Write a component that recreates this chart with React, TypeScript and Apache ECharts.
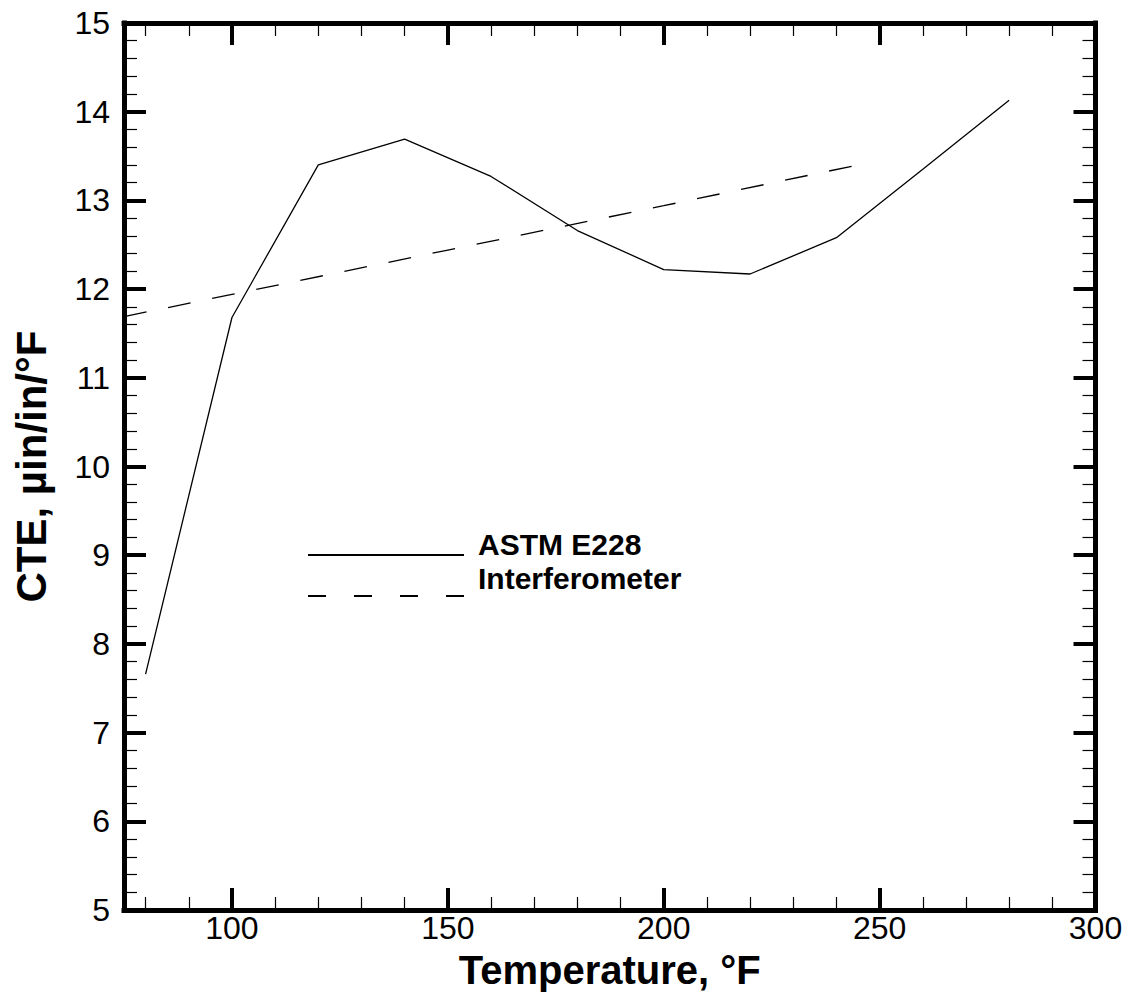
import React, { useEffect, useRef } from "react";
import * as echarts from "echarts";

const astmTemps = [80, 100, 120, 140, 160, 180, 200, 220, 240, 260, 280];
const astmCte = [7.66, 11.68, 13.4, 13.69, 13.27, 12.66, 12.22, 12.17, 12.58, 13.35, 14.13];
const interfTemps = [75, 100, 150, 200, 245];
const interfCte = [11.69, 11.94, 12.44, 12.94, 13.4];

const xMajorTicks = [100, 150, 200, 250, 300];
const xMinorTicks = [80, 90, 110, 120, 130, 140, 160, 170, 180, 190, 210, 220, 230, 240, 260, 270, 280, 290];

const FONT = "'Liberation Sans', Arial, Helvetica, sans-serif";

export default function App() {
  const ref = useRef<HTMLDivElement>(null);
  useEffect(() => {
    const chart = echarts.init(ref.current!, null, { renderer: "svg" });
    const frame = { show: true, lineStyle: { color: "#000", width: 5, cap: "square" } };
    const majorTick = { show: true, inside: true, length: 22, lineStyle: { color: "#000", width: 4 } };
    const minorTickStyle = { show: true, inside: true, length: 13, lineStyle: { color: "#000", width: 1.2 } };
    const xBase = { type: "value", min: 75, max: 300, splitLine: { show: false } };
    const legendText = (spacer: number) => ({
      color: "#000",
      fontFamily: FONT,
      padding: [0, 0, 0, 9],
      rich: {
        t: { fontSize: 30, fontWeight: "bold", color: "#000", fontFamily: FONT, lineHeight: 30 },
        s: { fontSize: 10, lineHeight: spacer },
      },
    });
    const legendFmt = (name: string) => `{t|${name}}\n{s| }`;
    chart.setOption({
      animation: false,
      backgroundColor: "#fff",
      textStyle: { fontFamily: FONT },
      grid: { left: 124, right: 35.5, top: 23, bottom: 88, containLabel: false },
      xAxis: [
        {
          ...xBase,
          position: "bottom",
          axisLine: frame,
          axisTick: { ...majorTick, customValues: xMajorTicks },
          axisLabel: {
            customValues: xMajorTicks,
            fontSize: 32,
            lineHeight: 26,
            color: "#000",
            margin: 5,
            fontFamily: FONT,
          },
          name: "Temperature, °F",
          nameLocation: "middle",
          nameGap: 43,
          nameMoveOverlap: false,
          nameTextStyle: { fontSize: 40, lineHeight: 34, fontWeight: "bold", color: "#000", fontFamily: FONT },
        },
        {
          ...xBase,
          position: "bottom",
          axisLine: { show: false },
          axisTick: { ...minorTickStyle, customValues: xMinorTicks },
          axisLabel: { show: false },
        },
        {
          ...xBase,
          position: "top",
          axisLine: frame,
          axisTick: { ...majorTick, customValues: xMajorTicks },
          axisLabel: { show: false },
        },
        {
          ...xBase,
          position: "top",
          axisLine: { show: false },
          axisTick: { ...minorTickStyle, customValues: xMinorTicks },
          axisLabel: { show: false },
        },
      ],
      yAxis: [
        {
          type: "value",
          min: 5,
          max: 15,
          interval: 1,
          position: "left",
          splitLine: { show: false },
          axisLine: frame,
          axisTick: majorTick,
          minorTick: { show: true, splitNumber: 5, length: 13, lineStyle: { color: "#000", width: 1.2 } },
          axisLabel: { fontSize: 32, color: "#000", margin: 14, fontFamily: FONT },
          name: "CTE, µin/in/°F",
          nameLocation: "middle",
          nameGap: 72,
          nameMoveOverlap: false,
          nameTextStyle: { fontSize: 42, fontWeight: "bold", color: "#000", fontFamily: FONT },
        },
        {
          type: "value",
          min: 5,
          max: 15,
          interval: 1,
          position: "right",
          splitLine: { show: false },
          axisLine: frame,
          axisTick: majorTick,
          minorTick: { show: true, splitNumber: 5, length: 13, lineStyle: { color: "#000", width: 1.2 } },
          axisLabel: { show: false },
        },
      ],
      legend: [
        {
          data: ["ASTM E228"],
          left: 307,
          top: 529,
          padding: 0,
          orient: "vertical",
          itemWidth: 156,
          itemHeight: 14,
          formatter: legendFmt,
          textStyle: legendText(22),
        },
        {
          data: [{ name: "Interferometer", lineStyle: { type: [18, 28] } }],
          left: 307,
          top: 563,
          padding: 0,
          orient: "vertical",
          itemWidth: 156,
          itemHeight: 14,
          formatter: legendFmt,
          textStyle: legendText(36),
        },
      ],
      series: [
        {
          name: "ASTM E228",
          type: "line",
          xAxisIndex: 0,
          yAxisIndex: 0,
          data: astmTemps.map((t, i) => [t, astmCte[i]]),
          symbol: "none",
          itemStyle: { color: "rgba(0,0,0,0)", borderWidth: 0 },
          lineStyle: { color: "#000", width: 1.3, type: "solid" },
        },
        {
          name: "Interferometer",
          type: "line",
          xAxisIndex: 0,
          yAxisIndex: 0,
          data: interfTemps.map((t, i) => [t, interfCte[i]]),
          symbol: "none",
          itemStyle: { color: "rgba(0,0,0,0)", borderWidth: 0 },
          lineStyle: { color: "#000", width: 1.3, type: [23, 22] },
        },
      ],
    });
    return () => chart.dispose();
  }, []);
  return <div ref={ref} style={{ width: 1131, height: 998, position: "absolute", left: 0, top: 0 }} />;
}
